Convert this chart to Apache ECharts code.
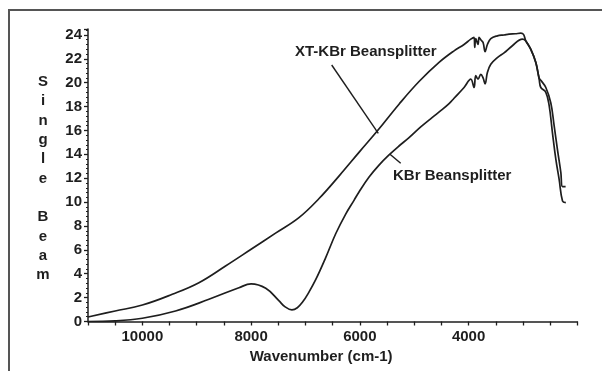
<!DOCTYPE html>
<html>
<head>
<meta charset="utf-8">
<script src="https://cdn.jsdelivr.net/npm/echarts@6/dist/echarts.min.js"></script>
<style>
html,body{margin:0;padding:0;background:#fff;}
#chart{width:602px;height:371px;}
</style>
</head>
<body>
<div id="chart"></div>
<script>
// XT-KBr beamsplitter single-beam spectrum
const xtWavenumber = [11000,10500,10000,9450,8960,8470,8000,7550,7120,6750,6380,6000,5680,5279,4911,4543,4267,4083,3959,3899,3886,3868,3826,3807,3775,3733,3696,3654,3591,3470,3350,3255,3140,3039,2990,2947,2855,2763,2702,2671,2579,2487,2426,2365,2303,2272,2215];
const xtSignal     = [0.38,0.88,1.38,2.28,3.25,4.65,6.05,7.4,8.7,10.3,12.2,14.25,15.95,18.2,20.1,21.7,22.67,23.2,23.65,23.8,22.95,23.7,23.2,23.8,23.6,23.37,22.6,23.2,23.7,23.93,24.0,24.07,24.1,24.15,24.05,23.5,22.8,21.7,20.4,20.2,19.6,18.3,16.4,14.4,12.5,11.3,11.3];

// KBr beamsplitter single-beam spectrum
const kbrWavenumber = [11000,10500,10000,9390,8776,8224,8000,7730,7490,7380,7250,7150,7050,6950,6812,6628,6444,6260,6107,6015,5830,5647,5463,5280,5095,4880,4666,4500,4359,4267,4083,3959,3899,3868,3826,3775,3733,3696,3654,3591,3470,3347,3194,3010,2947,2855,2763,2702,2671,2579,2518,2457,2395,2334,2272,2211];
const kbrSignal     = [0.0,0.05,0.27,0.88,1.86,2.83,3.15,2.78,1.75,1.25,0.98,1.15,1.65,2.35,3.5,5.35,7.35,9.0,10.15,10.85,12.1,13.1,13.95,14.7,15.4,16.3,17.1,17.7,18.25,18.7,19.6,20.3,19.6,20.6,20.3,20.7,20.4,19.9,20.85,21.55,22.1,22.5,23.1,23.65,23.5,22.8,21.7,20.3,19.6,19.2,18.1,15.8,13.6,11.9,10.1,9.96];

const xTickLabels = [10000, 8000, 6000, 4000];
const yTickLabels = [0,2,4,6,8,10,12,14,16,18,20,22,24];

const seriesNames = ['XT-KBr Beansplitter', 'KBr Beansplitter'];
const xAxisTitle = 'Wavenumber (cm-1)';
const yAxisTitle = 'Single Beam';

const FONT = "'Liberation Sans', Arial, Helvetica, sans-serif";
const INK = '#1e1e1e';

function pairs(xs, ys) { return xs.map((x, i) => [x, ys[i]]); }

const chart = echarts.init(document.getElementById('chart'), null, {renderer: 'canvas'});

const option = {
  backgroundColor: '#ffffff',
  animation: false,
  grid: {left: 88, right: 24.7, top: 29, bottom: 49.5, containLabel: false},
  xAxis: {
    type: 'value',
    inverse: true,
    min: 2000,
    max: 11000,
    interval: 500,
    name: xAxisTitle,
    nameLocation: 'middle',
    nameGap: 23,
    nameTextStyle: {fontFamily: FONT, fontWeight: 'bold', fontSize: 15, color: INK, padding: [0, 23, 0, 0], verticalAlign: 'top'},
    axisLine: {show: true, onZero: false, lineStyle: {color: INK, width: 1.5}},
    axisTick: {show: true, inside: false, length: 4, lineStyle: {color: INK, width: 1.3}},
    minorTick: {show: false},
    splitLine: {show: false},
    axisLabel: {
      margin: 8,
      fontFamily: FONT, fontWeight: 'bold', fontSize: 15, color: INK,
      formatter: v => (xTickLabels.indexOf(v) >= 0 ? String(v) : '')
    }
  },
  yAxis: {
    type: 'value',
    min: 0,
    max: 24.5,
    interval: 2,
    axisLine: {show: true, onZero: false, lineStyle: {color: INK, width: 1.5}},
    axisTick: {show: true, inside: false, length: 4, lineStyle: {color: INK, width: 1.3}},
    minorTick: {show: true, splitNumber: 5, length: 2, lineStyle: {color: INK, width: 1}},
    splitLine: {show: false},
    axisLabel: {
      margin: 6,
      fontFamily: FONT, fontWeight: 'bold', fontSize: 15, color: INK,
      formatter: v => (yTickLabels.indexOf(v) >= 0 ? String(v) : '')
    }
  },
  series: [
    {
      name: seriesNames[0],
      type: 'line',
      data: pairs(xtWavenumber, xtSignal),
      showSymbol: false,
      smooth: 0.4,
      lineStyle: {color: INK, width: 1.7},
      z: 3
    },
    {
      name: seriesNames[1],
      type: 'line',
      data: pairs(kbrWavenumber, kbrSignal),
      showSymbol: false,
      smooth: 0.4,
      lineStyle: {color: INK, width: 1.7},
      z: 3
    }
  ],
  graphic: [
    {
      type: 'rect',
      shape: {x: 9, y: 10, width: 640, height: 420},
      style: {fill: 'none', stroke: '#555555', lineWidth: 2},
      silent: true
    },
    {
      type: 'text',
      x: 43, y: 178.4,
      style: {
        text: yAxisTitle.split('').join('\n'),
        fontFamily: FONT, fontWeight: 'bold', fontSize: 15, fill: INK,
        lineHeight: 19.33, textAlign: 'center', textVerticalAlign: 'middle'
      }
    },
    {
      type: 'text',
      x: 295, y: 52,
      style: {
        text: seriesNames[0],
        fontFamily: FONT, fontWeight: 'bold', fontSize: 15, fill: INK,
        textAlign: 'left', textVerticalAlign: 'middle'
      }
    },
    {
      type: 'line',
      shape: {x1: 331.7, y1: 65, x2: 378.3, y2: 133.3},
      style: {stroke: INK, lineWidth: 1.4}
    },
    {
      type: 'text',
      x: 393, y: 175.7,
      style: {
        text: seriesNames[1],
        fontFamily: FONT, fontWeight: 'bold', fontSize: 15, fill: INK,
        textAlign: 'left', textVerticalAlign: 'middle'
      }
    },
    {
      type: 'line',
      shape: {x1: 390, y1: 154.3, x2: 400.7, y2: 163.3},
      style: {stroke: INK, lineWidth: 1.4}
    }
  ]
};

chart.setOption(option);
</script>
</body>
</html>
